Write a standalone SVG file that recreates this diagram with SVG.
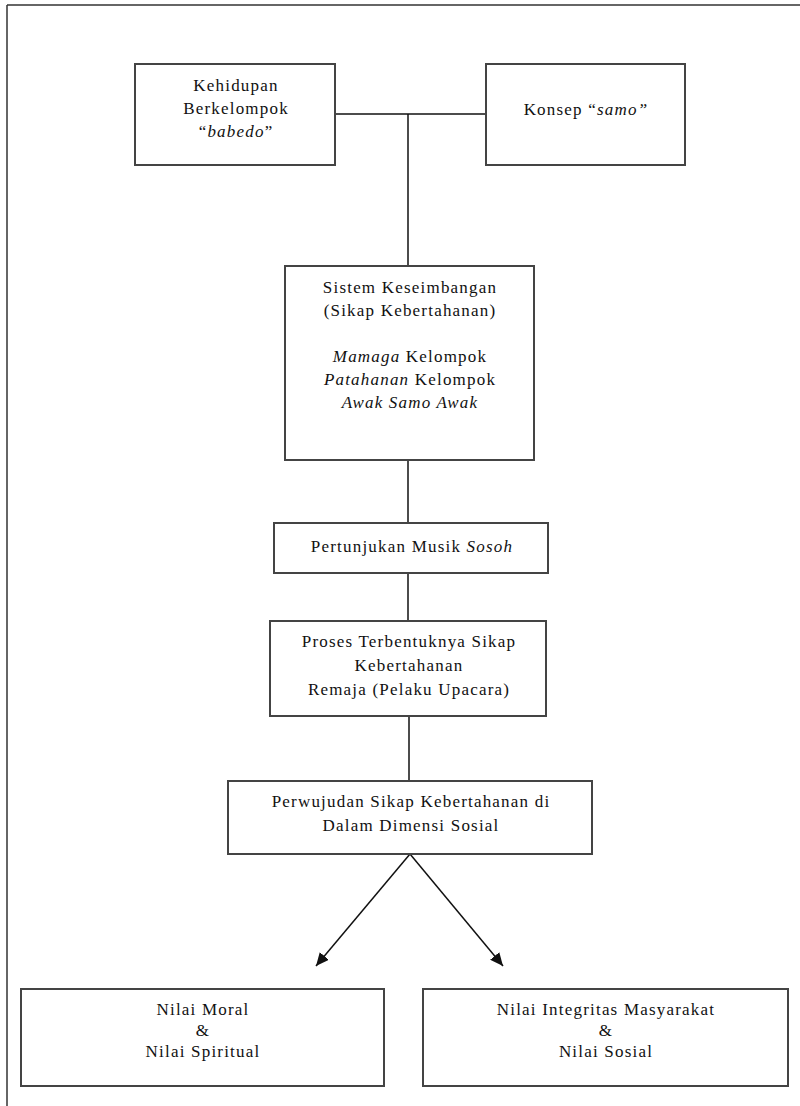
<svg xmlns="http://www.w3.org/2000/svg" width="800" height="1106" viewBox="0 0 800 1106">
<defs>
<style>
.box{fill:#fff;stroke:#444;stroke-width:2}
.frame{stroke:#333;stroke-width:1.5;fill:none}
.conn{stroke:#111;stroke-width:1.5;fill:none}
text{font-family:"Liberation Serif","Times New Roman",serif;font-size:17px;fill:#111;text-anchor:middle;letter-spacing:1.2px}
.i{font-style:italic}
</style>
<marker id="arr" markerUnits="userSpaceOnUse" markerWidth="14" markerHeight="12" refX="13" refY="6" orient="auto">
<path d="M0,0 L13,6 L0,12 Z" fill="#111"/>
</marker>
</defs>
<g id="frame">
<line class="frame" x1="7" y1="5" x2="800" y2="5"/>
<line class="frame" x1="7" y1="5" x2="7" y2="1106"/>
</g>
<g id="connectors">
<line class="conn" x1="335" y1="114" x2="486" y2="114"/>
<line class="conn" x1="408" y1="114" x2="408" y2="266"/>
<line class="conn" x1="408" y1="460" x2="408" y2="523"/>
<line class="conn" x1="408" y1="573" x2="408" y2="621"/>
<line class="conn" x1="409" y1="716" x2="409" y2="781"/>
<line class="conn" x1="410" y1="854" x2="316" y2="966" marker-end="url(#arr)"/>
<line class="conn" x1="410" y1="854" x2="503" y2="966" marker-end="url(#arr)"/>
</g>
<g id="kehidupan">
<rect class="box" x="135" y="64" width="200" height="101"/>
<text x="236" y="91">Kehidupan</text>
<text x="236" y="114">Berkelompok</text>
<text x="236" y="137">“<tspan class="i">babedo</tspan>”</text>
</g>
<g id="konsep">
<rect class="box" x="486" y="64" width="199" height="101"/>
<text x="586" y="115">Konsep “<tspan class="i">samo”</tspan></text>
</g>
<g id="sistem">
<rect class="box" x="285" y="266" width="249" height="194"/>
<text x="410" y="293">Sistem Keseimbangan</text>
<text x="410" y="316">(Sikap Kebertahanan)</text>
<text x="410" y="362"><tspan class="i">Mamaga</tspan> Kelompok</text>
<text x="410" y="385"><tspan class="i">Patahanan</tspan> Kelompok</text>
<text x="410" y="408" class="i">Awak Samo Awak</text>
</g>
<g id="pertunjukan">
<rect class="box" x="274" y="523" width="274" height="50"/>
<text x="412" y="552">Pertunjukan Musik <tspan class="i">Sosoh</tspan></text>
</g>
<g id="proses">
<rect class="box" x="270" y="621" width="276" height="95"/>
<text x="409" y="647">Proses Terbentuknya Sikap</text>
<text x="409" y="671">Kebertahanan</text>
<text x="409" y="695">Remaja (Pelaku Upacara)</text>
</g>
<g id="perwujudan">
<rect class="box" x="228" y="781" width="364" height="73"/>
<text x="411" y="807">Perwujudan Sikap Kebertahanan di</text>
<text x="411" y="831">Dalam Dimensi Sosial</text>
</g>
<g id="moral">
<rect class="box" x="21" y="989" width="363" height="97"/>
<text x="203" y="1015">Nilai Moral</text>
<text x="203" y="1036">&amp;</text>
<text x="203" y="1057">Nilai Spiritual</text>
</g>
<g id="integritas">
<rect class="box" x="423" y="989" width="365" height="97"/>
<text x="606" y="1015">Nilai Integritas Masyarakat</text>
<text x="606" y="1036">&amp;</text>
<text x="606" y="1057">Nilai Sosial</text>
</g>
</svg>
